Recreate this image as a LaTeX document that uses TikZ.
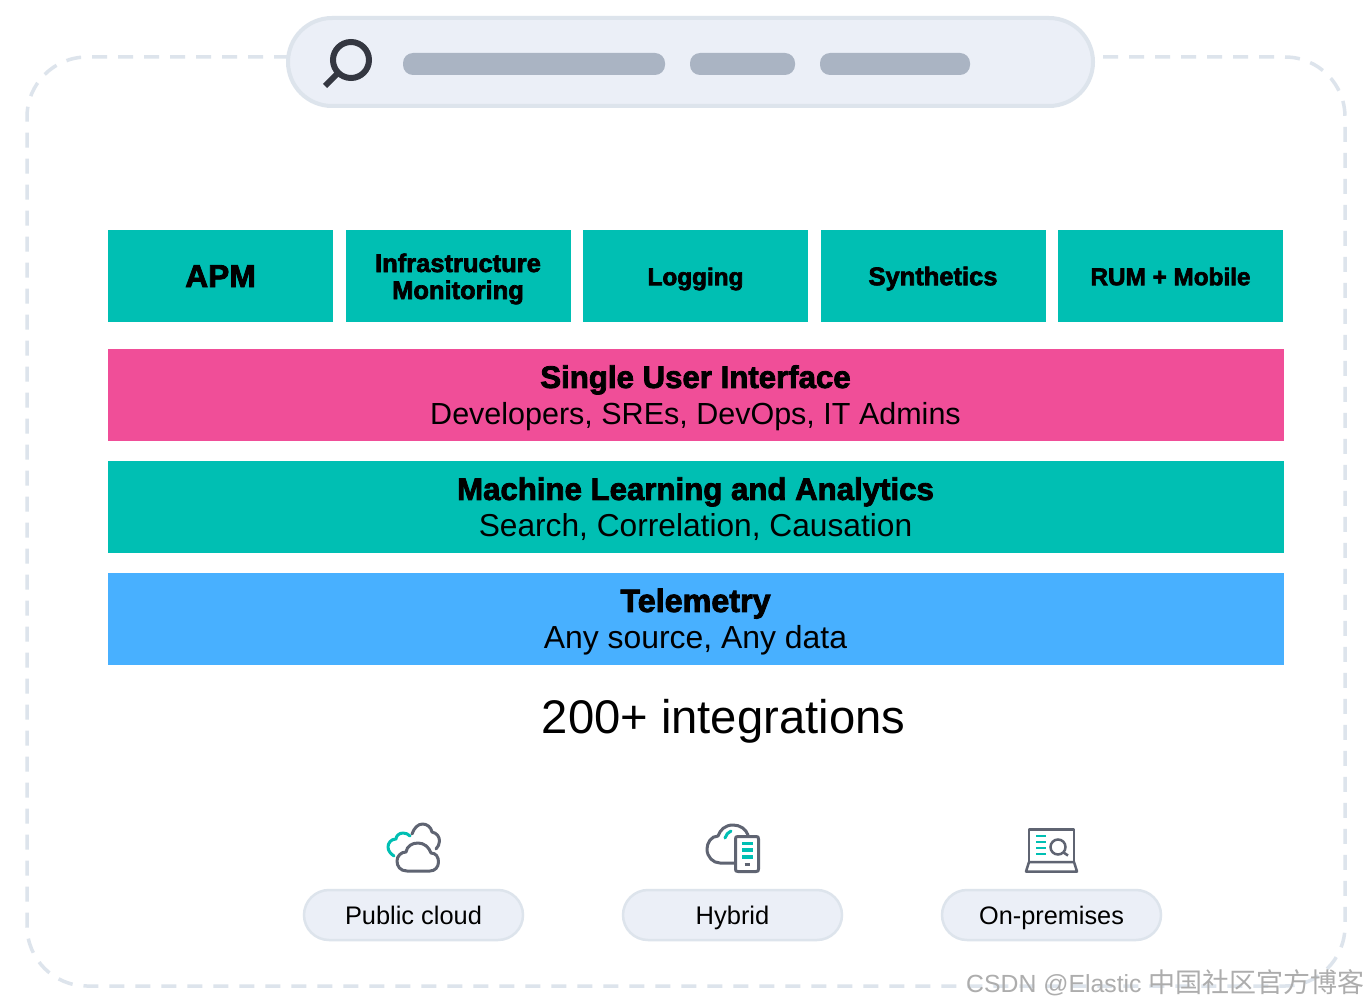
\documentclass[tikz,border=0pt]{standalone}
\usepackage{fontspec}
\setmainfont{Liberation Sans}
\newfontfamily\heavyfont[FakeBold=2.6]{Liberation Sans Bold}
\newfontfamily\cjkfont{Noto Sans CJK SC}
\definecolor{teal}{HTML}{00BFB3}
\definecolor{pinkband}{HTML}{F04E98}
\definecolor{blueband}{HTML}{48B0FF}
\definecolor{edge}{HTML}{DDE4EC}
\definecolor{pale}{HTML}{EBEFF7}
\definecolor{barfill}{HTML}{AAB4C3}
\definecolor{icon}{HTML}{5F6472}
\definecolor{dark}{HTML}{343741}
\tikzset{
  card/.style={fill=teal,draw=none,minimum width=225pt,minimum height=92pt,inner sep=0pt,align=center,font=\fontsize{25}{27}\selectfont},
  band/.style={draw=none,minimum width=1176pt,minimum height=92pt,inner sep=0pt,align=center,font=\fontsize{30}{36.5}\selectfont},
  pill/.style={fill=pale,draw=edge,line width=2.5pt,rounded corners=25pt,minimum width=219pt,minimum height=50pt,inner sep=0pt},
  bar/.style={fill=barfill,draw=none,rounded corners=10pt},
  iconline/.style={draw=icon,line width=3pt,line cap=round,line join=round},
  iconteal/.style={draw=teal,line width=3pt,line cap=round,line join=round}
}
% line of text: lowered baseline, symmetric box, so the node centre is a fixed distance above the baseline
\newcommand{\heavyline}[3]{\raisebox{-#1pt}[6pt][6pt]{\heavyfont\fontsize{#2}{#2}\selectfont #3}}
\newcommand{\plainline}[3]{\raisebox{-#1pt}[6pt][6pt]{\fontsize{#2}{#2}\selectfont #3}}
\begin{document}
\begin{tikzpicture}[x=1pt,y=-1pt]
\useasboundingbox (0,0) rectangle (1370,1006);
\fill[white] (0,0) rectangle (1370,1006);
% dashed frame
\draw[edge,line width=3.5pt,dash pattern=on 15pt off 11pt]
  (1103,57) -- (1285,57) arc[start angle=90,end angle=0,x radius=60,y radius=-60]
  -- (1345,926) arc[start angle=0,end angle=-90,x radius=60,y radius=-60]
  -- (87,986) arc[start angle=-90,end angle=-180,x radius=60,y radius=-60]
  -- (27,117) arc[start angle=180,end angle=90,x radius=60,y radius=-60]
  -- (287,57);
% search bar
\draw[fill=pale,draw=edge,line width=4pt,rounded corners=44pt] (288,18) rectangle (1093,106);
\draw[dark,line width=6pt] (351,60) circle[radius=18];
\draw[dark,line width=6pt] (338,73) -- (325,86);
\fill[bar] (403,53) rectangle (665,75);
\fill[bar] (690,53) rectangle (795,75);
\fill[bar] (820,53) rectangle (970,75);
% cards
\node[card] (apm) at (220.5,276) {\heavyline{11}{31.7}{APM}};
\node[card] (infra) at (458,276) {\heavyline{9.5}{25.5}{Infrastructure}\\\heavyline{9.5}{25.5}{Monitoring}};
\node[card] (log) at (695.5,276) {\heavyline{9.2}{24.3}{Logging}};
\node[card] (syn) at (933,276) {\heavyline{9.2}{25.5}{Synthetics}};
\node[card] (rum) at (1170.5,276) {\heavyline{9.2}{24.3}{RUM + Mobile}};
% bands
\node[band,fill=pinkband] (ui) at (695.5,395) {\heavyline{11.2}{31.2}{Single User Interface}\\\plainline{11.2}{30.5}{Developers, SREs, DevOps, IT Admins}};
\node[band,fill=teal] (ml) at (695.5,507) {\heavyline{11.2}{31.2}{Machine Learning and Analytics}\\\plainline{11.2}{31.7}{Search, Correlation, Causation}};
\node[band,fill=blueband] (tel) at (695.5,619) {\heavyline{11.2}{32.3}{Telemetry}\\\plainline{11.2}{31.9}{Any source, Any data}};
\node[inner sep=0pt] (integ) at (723.5,717) {\plainline{16}{47.2}{200+ integrations}};
% pills
\node[pill] (pub) at (413.5,915) {\plainline{9.3}{25.4}{Public cloud}};
\node[pill] (hyb) at (732.5,915) {\plainline{9.3}{25.5}{Hybrid}};
\node[pill] (onp) at (1051.5,915) {\plainline{9.3}{25.3}{On-premises}};
% public cloud icon
\draw[iconline] (407,871) .. controls (400,871) and (397,866) .. (397,861)
  .. controls (397,856) and (401,852) .. (406,852)
  .. controls (407,846) and (412,843) .. (418,843)
  .. controls (424,843) and (429,847) .. (431,853)
  .. controls (436,853) and (438.5,857) .. (438.5,862)
  .. controls (438.5,867) and (435,871) .. (430,871) -- cycle;
\draw[iconline] (412,834) .. controls (414,828) and (418,824) .. (422.5,824)
  .. controls (427,824) and (431,827) .. (432,832)
  .. controls (437,833) and (439.5,837) .. (439.5,841)
  .. controls (439.5,844) and (438,847) .. (436,849);
\draw[iconteal] (410,836) .. controls (408,834) and (406,833) .. (403,833)
  .. controls (399,833) and (396,836) .. (396,839)
  .. controls (391,839) and (388,843) .. (388,847)
  .. controls (388,851) and (391,854) .. (394,856);
% hybrid icon
\draw[iconline] (748,835) .. controls (746,829) and (740,825) .. (733,825)
  .. controls (725,825) and (720,830) .. (718,836)
  .. controls (711,836) and (707,843) .. (707,849)
  .. controls (707,857) and (713,863) .. (720,863) -- (734,863);
\draw[iconteal] (725,838) .. controls (726,835) and (728,832) .. (731,831);
\draw[iconline] (738,836.5) -- (756,836.5) .. controls (758,836.5) and (758.5,837) .. (758.5,839)
  -- (758.5,869) .. controls (758.5,871) and (758,871.5) .. (756,871.5) -- (738,871.5)
  .. controls (736,871.5) and (735.5,871) .. (735.5,869) -- (735.5,839)
  .. controls (735.5,837) and (736,836.5) .. (738,836.5) -- cycle;
\draw[teal,line width=3.5pt] (742,843.5) -- (753,843.5) (742,850) -- (753,850) (742,857) -- (753,857);
\draw[icon,line width=3pt] (744.5,864.5) -- (749.5,864.5);
% on-premises icon
\draw[icon,line width=2.5pt,line join=round] (1029,862) -- (1029,829.5) -- (1074,829.5) -- (1074,862);
\draw[icon,line width=2.5pt,line join=round] (1029,862) -- (1074,862) -- (1077,871.5) -- (1026,871.5) -- cycle;
\draw[teal,line width=2.8pt] (1036,836) -- (1046,836) (1036,842) -- (1046,842) (1036,848) -- (1046,848) (1036,854) -- (1046,854);
\draw[icon,line width=2.5pt] (1058,847) circle[radius=7.5];
\draw[icon,line width=2.5pt] (1063.5,852.5) -- (1068,855.5);
% watermark
\node[anchor=west,inner sep=0pt,text=black!32] (wm) at (966,983) {\fontsize{24.8}{30}\selectfont CSDN @Elastic\hspace{7pt}{\cjkfont\fontsize{27}{30}\selectfont 中国社区官方博客}};
\end{tikzpicture}
\end{document}
